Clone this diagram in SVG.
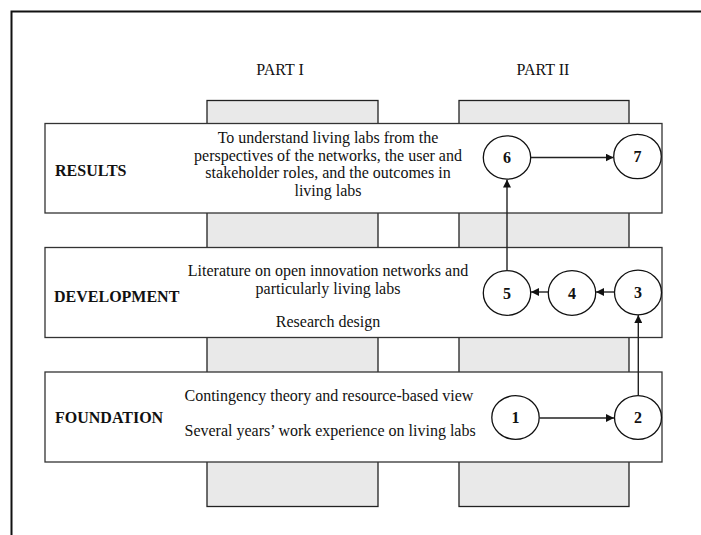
<svg xmlns="http://www.w3.org/2000/svg" width="701" height="535" viewBox="0 0 701 535">
<style>
.col{fill:#e9e9e9;stroke:#222;stroke-width:1.3}
.box{fill:#fff;stroke:#333;stroke-width:1.3}
.t{font-family:"Liberation Serif","Times New Roman",serif;font-size:16px;fill:#111}
.b{font-weight:bold}
.c{text-anchor:middle}
.node ellipse{fill:#fff;stroke:#111;stroke-width:1.3}
.conn line{stroke:#222;stroke-width:1.4;fill:none}
</style>
<defs>
<marker id="ah" viewBox="0 0 10 10" refX="10" refY="5" markerWidth="8" markerHeight="8" markerUnits="userSpaceOnUse" orient="auto">
<path d="M0,0 L10,5 L0,10 z" fill="#111"/>
</marker>
</defs>
<rect width="701" height="535" fill="#fff"/>
<path d="M11.5,535 V11.5 H701" fill="none" stroke="#111" stroke-width="2"/>
<text class="t c" x="280" y="75">PART I</text>
<text class="t c" x="543" y="75">PART II</text>
<rect class="col" x="207" y="100.5" width="171" height="406"/>
<rect class="col" x="459" y="100.5" width="170" height="406"/>
<g id="results">
<rect class="box" x="45" y="123.5" width="617" height="89.5"/>
<text class="t b" x="55" y="176">RESULTS</text>
<text class="t c" x="328" y="143">To understand living labs from the</text>
<text class="t c" x="328" y="160.5">perspectives of the networks, the user and</text>
<text class="t c" x="328" y="178">stakeholder roles, and the outcomes in</text>
<text class="t c" x="328" y="195.5">living labs</text>
</g>
<g id="development">
<rect class="box" x="45" y="247.5" width="617" height="90"/>
<text class="t b" x="54" y="302">DEVELOPMENT</text>
<text class="t c" x="328" y="276">Literature on open innovation networks and</text>
<text class="t c" x="328" y="294">particularly living labs</text>
<text class="t c" x="328" y="327">Research design</text>
</g>
<g id="foundation">
<rect class="box" x="45" y="372" width="617" height="90"/>
<text class="t b" x="55" y="423">FOUNDATION</text>
<text class="t" x="184.5" y="401">Contingency theory and resource-based view</text>
<text class="t" x="184.5" y="436">Several years’ work experience on living labs</text>
</g>
<g class="node" id="n1"><ellipse cx="515.5" cy="417.5" rx="23.7" ry="21.8"/><text class="t b c" x="515.5" y="423">1</text></g>
<g class="node" id="n2"><ellipse cx="638" cy="417.5" rx="23.5" ry="21.8"/><text class="t b c" x="638" y="423">2</text></g>
<g class="node" id="n3"><ellipse cx="638" cy="292.5" rx="23.5" ry="22.3"/><text class="t b c" x="638" y="298">3</text></g>
<g class="node" id="n4"><ellipse cx="572" cy="293" rx="23.7" ry="22.3"/><text class="t b c" x="572" y="298.5">4</text></g>
<g class="node" id="n5"><ellipse cx="507" cy="293" rx="23.7" ry="22.3"/><text class="t b c" x="507" y="298.5">5</text></g>
<g class="node" id="n6"><ellipse cx="507" cy="157.5" rx="23.7" ry="21.7"/><text class="t b c" x="507" y="163">6</text></g>
<g class="node" id="n7"><ellipse cx="637.5" cy="156.5" rx="23.8" ry="22.2"/><text class="t b c" x="637.5" y="162">7</text></g>
<g class="conn" id="connectors">
<line x1="539.5" y1="418" x2="614" y2="418" marker-end="url(#ah)"/>
<line x1="638.3" y1="395.5" x2="638.3" y2="315" marker-end="url(#ah)"/>
<line x1="614" y1="292" x2="596" y2="292" marker-end="url(#ah)"/>
<line x1="548" y1="292" x2="531" y2="292" marker-end="url(#ah)"/>
<line x1="507" y1="271" x2="507" y2="179.5" marker-end="url(#ah)"/>
<line x1="531" y1="157.5" x2="613.5" y2="157.5" marker-end="url(#ah)"/>
</g>
</svg>
